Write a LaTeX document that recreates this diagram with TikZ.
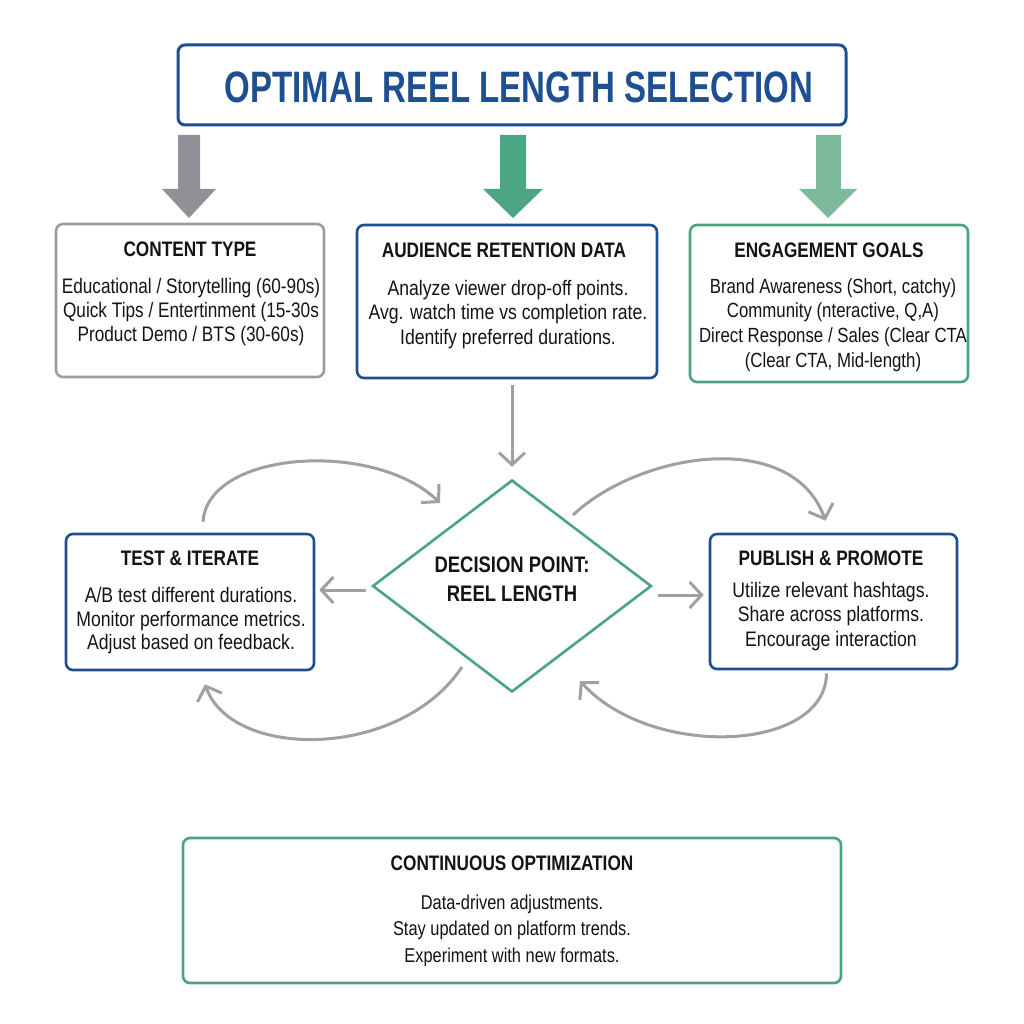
\documentclass[tikz,border=0pt]{standalone}
\usepackage{fontspec}
\setmainfont{Liberation Sans}
\newfontfamily\condfont[FakeStretch=0.82]{Liberation Sans}
\newfontfamily\condbody[FakeStretch=0.84]{Liberation Sans}
\newfontfamily\bigtitlefont[FakeStretch=0.75]{Liberation Sans}
\usetikzlibrary{arrows.meta,shapes.geometric}
\definecolor{bblue}{HTML}{1D4F91}
\definecolor{ggreen}{HTML}{4BA57C}
\definecolor{ggray}{HTML}{9C9C9C}
\definecolor{cgray}{HTML}{A0A0A0}
\definecolor{ink}{HTML}{141414}
\definecolor{agray}{HTML}{909196}
\definecolor{agreen}{HTML}{4CA683}
\definecolor{alight}{HTML}{7DB99B}
\tikzset{
  box/.style={draw, rounded corners=7pt, line width=2.6pt, fill=white, inner sep=0pt},
  hd/.style={font=\condfont\bfseries\fontsize{21}{24}\selectfont, text=ink, inner sep=0pt},
  bd/.style={font=\condbody\fontsize{21}{24.5}\selectfont, align=center, text=ink, inner sep=0pt},
  conn/.style={draw=cgray, line width=3pt, -{Straight Barb[length=12pt,width=26pt]}},
}
\begin{document}
\begin{tikzpicture}[x=1pt,y=-1pt]
\useasboundingbox[fill=white] (0,0) rectangle (1024,1024);

% title
\node[box, draw=bblue, line width=3pt, minimum width=668pt, minimum height=80pt] (title) at (512,85) {};
\node[font=\bigtitlefont\bfseries\fontsize{44}{48}\selectfont, text=bblue, inner sep=0pt] (titletext) at (519,87) {OPTIMAL REEL LENGTH SELECTION};

% big arrows
\fill[agray] (178,135) -- (200,135) -- (200,189) -- (216,189) -- (189,218) -- (162,189) -- (178,189) -- cycle;
\fill[agreen] (500,135) -- (526,135) -- (526,189) -- (543,189) -- (513,218) -- (483,189) -- (500,189) -- cycle;
\fill[alight] (816,135) -- (841,135) -- (841,189) -- (857,189) -- (828,218) -- (799,189) -- (816,189) -- cycle;

% top boxes
\node[box, draw=ggray, minimum width=268pt, minimum height=153pt] (ctype) at (190,300.5) {};
\node[hd] (ctypeh) at (190,249) {CONTENT TYPE};
\node[bd, font=\condfont\fontsize{21}{24}\selectfont] (ctypeb) at (191,312) {Educational / Storytelling (60-90s)\\Quick Tips / Entertinment (15-30s\\Product Demo / BTS (30-60s)};

\node[box, draw=bblue, minimum width=300pt, minimum height=153pt] (aud) at (507,301.5) {};
\node[hd] (audh) at (504,250) {AUDIENCE RETENTION DATA};
\node[bd] (audb) at (508,314.5) {Analyze viewer drop-off points.\\Avg. watch time vs completion rate.\\Identify preferred durations.};

\node[box, draw=ggreen, minimum width=278pt, minimum height=157pt] (eng) at (829,303.5) {};
\node[hd] (engh) at (829,250) {ENGAGEMENT GOALS};
\node[bd, font=\condfont\fontsize{20.5}{24.7}\selectfont] (engb) at (833,325) {Brand Awareness (Short, catchy)\\Community (nteractive, Q,A)\\Direct Response / Sales (Clear CTA\\(Clear CTA, Mid-length)};

% decision
\node[diamond, draw=ggreen, line width=2.6pt, minimum width=279pt, minimum height=212pt, inner sep=0pt, fill=white] (dec) at (512,586) {};
\node[font=\condfont\bfseries\fontsize{22.5}{28.5}\selectfont, text=ink, align=center, inner sep=0pt] (dect) at (512,579) {DECISION POINT:\\REEL LENGTH};

% side boxes
\node[box, draw=bblue, minimum width=248pt, minimum height=136pt] (test) at (190,602) {};
\node[hd] (testh) at (190,558) {TEST \& ITERATE};
\node[bd, font=\condbody\fontsize{21}{23.5}\selectfont] (testb) at (191,621) {A/B test different durations.\\Monitor performance metrics.\\Adjust based on feedback.};

\node[box, draw=bblue, minimum width=247pt, minimum height=135pt] (pub) at (833.5,601.5) {};
\node[hd] (pubh) at (831,558) {PUBLISH \& PROMOTE};
\node[bd] (pubb) at (831,616.5) {Utilize relevant hashtags.\\Share across platforms.\\Encourage interaction};

% bottom box
\node[box, draw=ggreen, minimum width=658pt, minimum height=145pt] (cont) at (512,910.5) {};
\node[hd] (conth) at (512,863) {CONTINUOUS OPTIMIZATION};
\node[bd, font=\condfont\fontsize{20}{26.5}\selectfont] (contb) at (512,930.5) {Data-driven adjustments.\\Stay updated on platform trends.\\Experiment with new formats.};

% straight connectors
\draw[conn, shorten <=6pt, shorten >=12pt] (aud.south -| dec.north) -- (dec.north);
\draw[conn] ([xshift=-5pt,yshift=-4pt]dec.west) -- ([xshift=4pt,yshift=12pt]test.east);
\draw[conn] ([xshift=5pt,yshift=-9pt]dec.east) -- ([xshift=-5pt,yshift=6.5pt]pub.west);

% curved loops
\coordinate (tlend) at (440,503);
\coordinate (trstart) at (573,515);
\coordinate (blstart) at (462,667);
\coordinate (brend) at (580,681);
\draw[conn] ([xshift=13pt,yshift=11pt]test.north) .. controls (208,450) and (375,440) .. (tlend);
\draw[conn] (trstart) .. controls (640,452) and (792,428) .. ([xshift=-8pt,yshift=12pt]pub.north);
\draw[conn] (blstart) .. controls (400,760) and (232,760) .. ([xshift=15pt,yshift=-13pt]test.south);
\draw[conn] ([xshift=-7pt,yshift=-3pt]pub.south) .. controls (826,752) and (652,760) .. (brend);
\end{tikzpicture}
\end{document}
